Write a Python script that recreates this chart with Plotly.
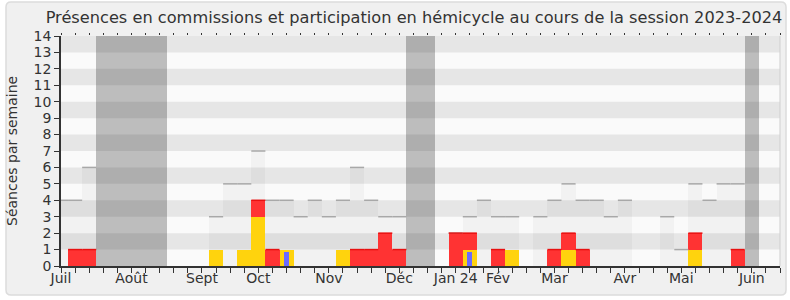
import plotly.graph_objects as go

# ---- data (one value per week, week 0 = first week of July 2023) ----
semaines = list(range(51))
mois_pos = [0, 5, 10, 14, 19, 24, 28, 31, 35, 40, 44, 49]
mois_txt = ["Juil", "Août", "Sept", "Oct", "Nov", "Déc", "Jan 24", "Fév", "Mar", "Avr", "Mai", "Juin"]
seances = [4, 4, 6, 0, 0, 0, 0, 0, 0, 0, 0,
           3, 5, 5, 7, 4, 4, 3, 4, 3, 4, 6, 4, 3, 3,
           0, 0, 0,
           2, 3, 4, 3, 3, 0, 3, 4, 5, 4, 4, 3, 4,
           0, 0, 3, 1, 5, 4, 5, 5, 0, 0]
hemicycle = [0, 0, 0, 0, 0, 0, 0, 0, 0, 0, 0,
             1, 0, 1, 3, 0, 1, 0, 0, 0, 1, 0, 0, 0, 0,
             0, 0, 0,
             0, 1, 0, 0, 1, 0, 0, 0, 1, 0, 0, 0, 0,
             0, 0, 0, 0, 1, 0, 0, 0, 0, 0]
commission = [0, 1, 1, 0, 0, 0, 0, 0, 0, 0, 0,
              0, 0, 0, 1, 1, 0, 0, 0, 0, 0, 1, 1, 2, 1,
              0, 0, 0,
              2, 1, 0, 1, 0, 0, 0, 1, 1, 1, 0, 0, 0,
              0, 0, 0, 0, 1, 0, 0, 1, 0, 0]
interventions = [0] * 16 + [0.85] + [0] * 12 + [0.85] + [0] * 21
vacances = [0, 0, 0, 1, 1, 1, 1, 1, 0, 0, 0,
            0, 0, 0, 0, 0, 0, 0, 0, 0, 0, 0, 0, 0, 0,
            1, 1, 0,
            0, 0, 0, 0, 0, 0, 0, 0, 0, 0, 0, 0, 0,
            0, 0, 0, 0, 0, 0, 0, 0, 1, 0]
YMAX = 14
XMAX = 51

# ---- layout geometry ----
W, H = 790, 300
ML, MR, MT, MB = 61, 10, 36, 34
PW, PH = W - ML - MR, H - MT - MB
FONT = "DejaVu Sans"


def px2x(px):
    return (px - ML) / PW


def px2y(py):
    return (H - MB - py) / PH


fig = go.Figure()

# vacation columns
fig.add_trace(go.Bar(x=semaines, y=[YMAX if v else 0 for v in vacances], width=1,
                     marker=dict(color="rgba(0,0,0,0.245)", line=dict(width=0)),
                     hoverinfo="skip", showlegend=False))
# total sittings per week (light overlay)
fig.add_trace(go.Bar(x=semaines, y=seances, width=1,
                     marker=dict(color="rgba(0,0,0,0.03)", line=dict(width=0)),
                     hoverinfo="skip", showlegend=False))
# top line of sittings
lx, ly = [], []
for k, v in zip(semaines, seances):
    if v > 0:
        lx += [k - 0.5, k + 0.5, None]
        ly += [v, v, None]
fig.add_trace(go.Scatter(x=lx, y=ly, mode="lines", line=dict(color="#a8a8a8", width=1.5),
                         hoverinfo="skip", showlegend=False))
# hemicycle participation (yellow)
fig.add_trace(go.Bar(x=semaines, y=hemicycle, width=1,
                     marker=dict(color="#ffd30d", line=dict(width=0)),
                     hoverinfo="skip", showlegend=False))
# commission presence (red), stacked on yellow
fig.add_trace(go.Bar(x=semaines, y=commission, base=hemicycle, width=1,
                     marker=dict(color="#ff3333", line=dict(width=0)),
                     hoverinfo="skip", showlegend=False))
rx, ry = [], []
for k, c, h in zip(semaines, commission, hemicycle):
    if c > 0:
        rx += [k - 0.5, k + 0.5, None]
        ry += [c + h, c + h, None]
fig.add_trace(go.Scatter(x=rx, y=ry, mode="lines", line=dict(color="#e81010", width=1.5),
                         hoverinfo="skip", showlegend=False))
# interventions (narrow blue)
fig.add_trace(go.Bar(x=semaines, y=interventions, width=0.35,
                     marker=dict(color="#6b6bff", line=dict(width=0)),
                     hoverinfo="skip", showlegend=False))

# ---- shapes: outer frame + stripes ----
shapes = []
x0, x1, y0, y1, r = 6, 786, 2, 295, 5
rx_ = r / PW
ry_ = r / PH
X0, X1, Y0, Y1 = px2x(x0), px2x(x1), px2y(y0), px2y(y1)
path = (f"M {X0+rx_},{Y0} L {X1-rx_},{Y0} Q {X1},{Y0} {X1},{Y0-ry_} "
        f"L {X1},{Y1+ry_} Q {X1},{Y1} {X1-rx_},{Y1} L {X0+rx_},{Y1} "
        f"Q {X0},{Y1} {X0},{Y1+ry_} L {X0},{Y0-ry_} Q {X0},{Y0} {X0+rx_},{Y0} Z")
shapes.append(dict(type="path", path=path, xref="paper", yref="paper", layer="below",
                   fillcolor="#f0f0f0", line=dict(color="#dcdcdc", width=1.5)))
shapes.append(dict(type="rect", xref="paper", yref="y", x0=0, x1=1, y0=0, y1=YMAX,
                   layer="below", fillcolor="#fafafa", line=dict(width=0)))
for b in range(1, YMAX, 2):
    shapes.append(dict(type="rect", xref="paper", yref="y", x0=0, x1=1, y0=b, y1=b + 1,
                       layer="below", fillcolor="#e6e6e6", line=dict(width=0)))
shapes.append(dict(type="line", xref="paper", yref="paper", x0=1, x1=1, y0=0, y1=1,
                   layer="above", line=dict(color="#cfcfcf", width=1)))

ticktext = []
for k in range(XMAX + 1):
    ticktext.append(mois_txt[mois_pos.index(k)] if k in mois_pos else "")

fig.update_layout(
    width=W, height=H,
    margin=dict(l=ML, r=MR, t=MT, b=MB, pad=0),
    paper_bgcolor="white",
    plot_bgcolor="rgba(0,0,0,0)",
    barmode="overlay",
    bargap=0,
    shapes=shapes,
    showlegend=False,
    font=dict(family=FONT, color="#333333", size=14),
    title=dict(text="Présences en commissions et participation en hémicycle au cours de la session 2023-2024",
               x=414 / W, xref="container", xanchor="center",
               y=1 - 17 / H, yref="container", yanchor="middle",
               font=dict(family=FONT, size=16.2, color="#333333")),
    xaxis=dict(range=[0, XMAX], tickmode="array", tickvals=list(range(XMAX + 1)), ticktext=ticktext,
               ticks="outside", ticklen=5, tickwidth=1, tickcolor="#333333",
               ticklabelstandoff=-7,
               showline=True, linecolor="#333333", linewidth=2,
               showgrid=False, zeroline=False, fixedrange=True,
               tickfont=dict(family=FONT, size=14, color="#333333")),
    xaxis2=dict(range=[0, XMAX], overlaying="x", side="top", matches="x",
                tickmode="array", tickvals=list(range(XMAX + 1)), showticklabels=False,
                ticks="outside", ticklen=2, tickwidth=1, tickcolor="#333333",
                showline=False, showgrid=False, zeroline=False),
    yaxis=dict(range=[0, YMAX], tickmode="array", tickvals=list(range(YMAX + 1)),
               ticks="outside", ticklen=5, tickwidth=1, tickcolor="#333333",
               showline=True, linecolor="#333333", linewidth=1.5,
               showgrid=False, zeroline=False, fixedrange=True,
               tickfont=dict(family=FONT, size=14, color="#333333")),
    annotations=[dict(text="Séances par semaine", textangle=-90, xref="paper", yref="paper",
                      x=px2x(12), y=0.5, xanchor="center", yanchor="middle", showarrow=False,
                      font=dict(family=FONT, size=14, color="#333333"))],
)
# invisible trace to activate the top axis
fig.add_trace(go.Scatter(x=[0], y=[0], xaxis="x2", mode="markers",
                         marker=dict(opacity=0), hoverinfo="skip", showlegend=False))

fig.write_html("out.html")
